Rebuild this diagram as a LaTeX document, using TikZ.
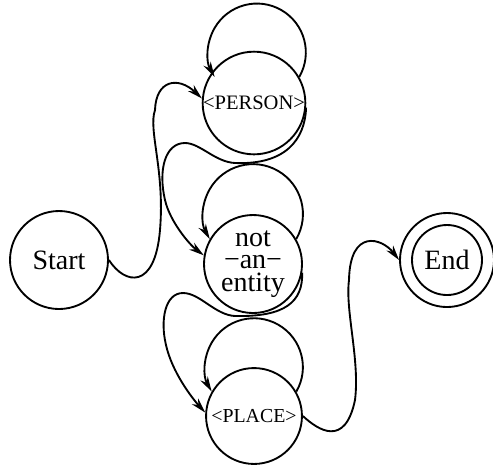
\documentclass[tikz,border=0pt]{standalone}
\usepackage{fontspec}
\setmainfont{Liberation Serif}
\usetikzlibrary{arrows.meta}

\begin{document}
\begin{tikzpicture}[x=0.4286pt, y=0.4286pt, >={Stealth[length=6.5pt, width=3.6pt]}, line width=0.8pt,
  every node/.style={font=\fontsize{12}{9.8}\selectfont},
  state/.style={draw, circle, inner sep=0pt, minimum size=42pt, align=center},
  tagstate/.style={state, minimum size=41.1pt, font=\fontsize{8.8}{10}\selectfont}]
\useasboundingbox (0,0) rectangle (493,-468);
\node[state] (start) at (59,-260) {Start};
\node[tagstate] (person) at (254,-103) {<PERSON>};
\node[state] (entity) at (253,-264) {not\\\char"2212 an\char"2212\\entity};
\node[tagstate, font=\fontsize{8.5}{10}\selectfont] (place) at (254,-416) {<PLACE>};
\node[state, minimum size=40.3pt] (end) at (447,-260) {End};
\draw (end.center) circle[radius=15pt];
% self loops
\draw[->] (person.30) arc[start angle=-30, end angle=210, radius=20.95pt];
\draw[->] (entity.30) arc[start angle=-30, end angle=210, radius=21.4pt];
\draw[->] (place.30) arc[start angle=-30, end angle=210, radius=20.95pt];
% transitions
\draw[->] (start.east) .. controls (125,-285) and (155,-290) .. (160,-230)
  .. controls (165,-170) and (148,-130) .. (155,-110)
  .. controls (156,-80) and (178,-76) .. (person.175);
\draw[->] (person.-5) .. controls (305,-140) and (285,-165) .. (235,-163)
  .. controls (215,-162) and (200,-143) .. (185,-143)
  .. controls (165,-143) and (158,-170) .. (165,-200)
  .. controls (170,-222) and (190,-245) .. (entity.170);
\draw[->] (entity.-10) .. controls (303,-302) and (285,-317) .. (235,-316)
  .. controls (215,-315) and (200,-293) .. (183,-293)
  .. controls (165,-293) and (160,-320) .. (166,-345)
  .. controls (172,-372) and (192,-398) .. (place.176);
\draw[->] (place.east) .. controls (318,-430) and (345,-448) .. (355,-400)
  .. controls (360,-360) and (345,-310) .. (349,-280)
  .. controls (350,-228) and (382,-238) .. (end.west);
\end{tikzpicture}
\end{document}
